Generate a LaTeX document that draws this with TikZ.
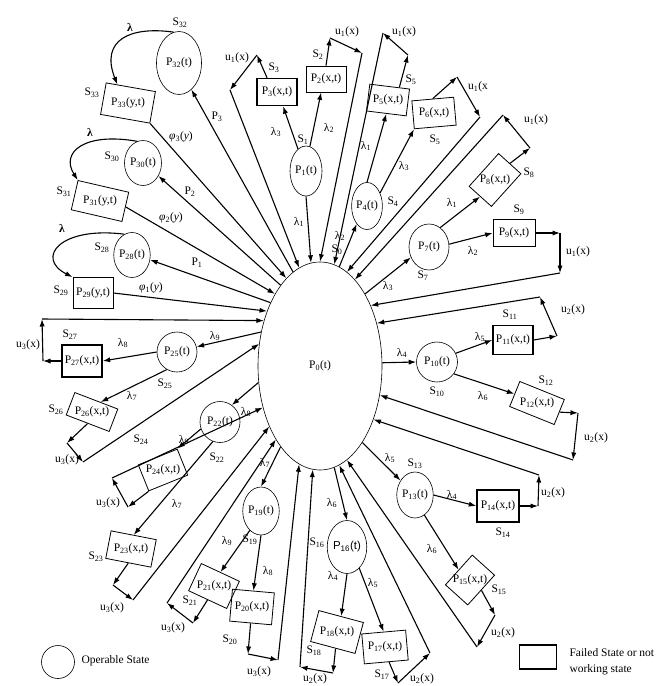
\documentclass[tikz,border=0pt]{standalone}
\usepackage{fontspec}
\setmainfont{Liberation Serif}
\newfontfamily\arialfont{Liberation Sans}
\usetikzlibrary{shapes.geometric,arrows.meta}
\newcommand\Pt[1]{P\textsubscript{#1}(t)}
\newcommand\Px[1]{P\textsubscript{#1}(x,t)}
\newcommand\Py[1]{P\textsubscript{#1}(y,t)}
\newcommand\Sl[1]{S\textsubscript{#1}}
\newcommand\lam[1]{λ\textsubscript{#1}}
\newcommand\ux[1]{u\textsubscript{#1}(x)}
\newcommand\phy[1]{\textit{φ}\textsubscript{#1}(\textit{y})}

\begin{document}
\begin{tikzpicture}[x=1pt,y=-1pt,
  every node/.style={font=\fontsize{11.5}{13}\selectfont},
  opstate/.style={draw,ellipse,line width=0.6pt,inner sep=0pt},
  failstate/.style={draw,rectangle,line width=0.8pt,inner sep=1pt},
  failthick/.style={failstate,line width=1.4pt},
  trans/.style={line width=1.1pt,-{Latex[length=7.5pt,width=5.2pt]}},
]
\useasboundingbox (0,0) rectangle (669,686);
% main state
\node[opstate,minimum width=124,minimum height=208] (P0) at (320,366) {\Pt{0}};
% operable states
\node[opstate,minimum width=32,minimum height=50] (P1) at (306,171) {\Pt{1}};
\node[opstate,minimum width=30,minimum height=47] (P4) at (367,206) {\Pt{4}};
\node[opstate,minimum width=40,minimum height=46] (P7) at (429,247) {\Pt{7}};
\node[opstate,minimum width=41,minimum height=40] (P10) at (437,362) {\Pt{10}};
\node[opstate,minimum width=34,minimum height=46] (P13) at (415,495) {\Pt{13}};
\node[opstate,minimum width=34,minimum height=53] (P16) at (347,547) {\arialfont\Pt{16}};
\node[opstate,minimum width=34,minimum height=48] (P19) at (261,511) {\Pt{19}};
\node[opstate,minimum width=40,minimum height=41] (P22) at (220,422) {\Pt{22}};
\node[opstate,minimum width=40,minimum height=40] (P25) at (177,352) {\Pt{25}};
\node[opstate,minimum width=35,minimum height=45] (P28) at (132,255) {\Pt{28}};
\node[opstate,minimum width=37,minimum height=45] (P30) at (143,163) {\Pt{30}};
\node[opstate,minimum width=45,minimum height=63] (P32) at (179,63) {\Pt{32}};
% failed states, upright boxes
\node[failthick,minimum width=40,minimum height=27] (P3) at (277,92) {\Px{3}};
\node[failstate,minimum width=40,minimum height=26] (P2) at (326,79) {\Px{2}};
\node[failstate,minimum width=42,minimum height=27] (P9) at (514,233) {\Px{9}};
\node[failthick,minimum width=40,minimum height=29] (P11) at (513,340) {\Px{11}};
\node[failthick,minimum width=42,minimum height=32] (P14) at (498,506) {\Px{14}};
\node[failthick,minimum width=40,minimum height=32] (P27) at (82,361) {\Px{27}};
\node[failstate,minimum width=40,minimum height=31] (P29) at (93,293) {\Py{29}};
% failed states, tilted boxes (text kept level)
\node[failstate,minimum width=40,minimum height=27,rotate=-7] (P5) at (388,100) {};
\node[failstate,minimum width=42,minimum height=28,rotate=5] (P6) at (434,113) {};
\node[failstate,minimum width=44,minimum height=30,rotate=48] (P8) at (495,180) {};
\node[failstate,minimum width=48,minimum height=27,rotate=-22] (P12) at (537,403) {};
\node[failstate,minimum width=40,minimum height=30,rotate=48] (P15) at (470,580) {};
\node[failstate,minimum width=44,minimum height=30,rotate=5] (P17) at (385,647) {};
\node[failstate,minimum width=46,minimum height=32,rotate=-15] (P18) at (337,632) {};
\node[failstate,minimum width=42,minimum height=32,rotate=-5] (P20) at (252,607) {};
\node[failstate,minimum width=42,minimum height=30,rotate=-25] (P21) at (214,586) {};
\node[failstate,minimum width=46,minimum height=28,rotate=-11] (P23) at (131,549) {};
\node[failstate,minimum width=42,minimum height=28,rotate=22] (P24) at (163,470) {};
\node[failstate,minimum width=46,minimum height=24,rotate=-21] (P26) at (92,412) {};
\node[failstate,minimum width=52,minimum height=30,rotate=-13] (P31) at (100,201) {};
\node[failstate,minimum width=50,minimum height=32,rotate=-10] (P33) at (128,103) {};
\node (P5txt) at (P5) {\Px{5}};
\node (P6txt) at (P6) {\Px{6}};
\node (P8txt) at (P8) {\Px{8}};
\node (P12txt) at (P12) {\Px{12}};
\node (P15txt) at (P15) {\Px{15}};
\node (P17txt) at (P17) {\Px{17}};
\node (P18txt) at (P18) {\Px{18}};
\node (P20txt) at (P20) {\Px{20}};
\node (P21txt) at (P21) {\Px{21}};
\node (P23txt) at (P23) {\Px{23}};
\node (P24txt) at (P24) {\Px{24}};
\node (P26txt) at (P26) {\Px{26}};
\node (P31txt) at (P31) {\Py{31}};
\node (P33txt) at (P33) {\Py{33}};
% failure transitions
\draw[trans] (P1.south) -- (P0.95);
\draw[trans] (P1.81) -- (P2.-110);
\draw[trans] (P1.110) -- (P3.-67);
\draw[trans] (P0.79) -- (P4.-120);
\draw[trans] (P4.north) -- (P5.south);
\draw[trans] (P4.45) -- (P6.south west);
\draw[trans] (P0.58) -- (P7.-150);
\draw[trans] (P7.60) -- (P8.west);
\draw[trans] (P7.8) -- (P9.west);
\draw[trans] (P0.3) -- (P10.west);
\draw[trans] (P10.25) -- (P11.west);
\draw[trans] (P10.-35) -- (P12.west);
\draw[trans] (P0.-61) -- (P13.135);
\draw[trans] (P13.east) -- (P14.west);
\draw[trans] (P13.-65) -- (P15.north);
\draw[trans] (P0.-82) -- (P16.north);
\draw[trans] (P16.south) -- (P18.north);
\draw[trans] (P16.-60) -- (P17.north);
\draw[trans] (P0.-116) -- (P19.north);
\draw[trans] (P19.-120) -- (P21.north);
\draw[trans] (P19.south) -- (P20.north);
\draw[trans] (P0.195) -- (P22.55);
\draw[trans] (P22.-160) -- (P24.north east);
\draw[trans] (P22.-110) -- (P23.north);
\draw[trans] (P0.150) -- (P25.15);
\draw[trans] (P25.west) -- (P27.east);
\draw[trans] (P25.-120) -- (P26.70);
\draw[trans] (P0.106) -- (P32.-65);
\draw[trans] (P0.116) -- (P30.-40);
\draw[trans] (P0.128) -- (P28.-15);
\draw[trans] (P33.south east) -- (P0.111);
\draw[trans] (P31.east) -- (P0.122);
\draw[trans] (P29.east) -- (P0.134);
% lambda loops
\draw[trans] (P32.100) .. controls (130,26) and (100,40) .. (P33.130);
\draw[trans] (P30.105) .. controls (85,132) and (60,152) .. (P31.north west);
\draw[trans] (P28.110) .. controls (60,226) and (35,258) .. (P29.north west);
% repair corners
\coordinate (r3a) at (257,55);  \coordinate (r3b) at (230,90);
\coordinate (r2a) at (330,38);  \coordinate (r2b) at (362,53);
\coordinate (r5a) at (408,55);  \coordinate (r5b) at (383,33);
\coordinate (r6a) at (457,77);  \coordinate (r6b) at (480,117);
\coordinate (r8a) at (530,148); \coordinate (r8b) at (503,115);
\coordinate (r9a) at (560,233); \coordinate (r9b) at (560,273);
\coordinate (r11a) at (557,336); \coordinate (r11b) at (540,297);
\coordinate (r12a) at (578,413); \coordinate (r12b) at (573,460);
\coordinate (r14a) at (538,506); \coordinate (r14b) at (539,475);
\coordinate (r15a) at (495,615); \coordinate (r15b) at (477,647);
\coordinate (r17a) at (398,683); \coordinate (r17b) at (430,653);
\coordinate (r18a) at (333,673); \coordinate (r18b) at (300,667);
\coordinate (r20a) at (248,654); \coordinate (r20b) at (278,660);
\coordinate (r21a) at (193,623); \coordinate (r21b) at (167,603);
\coordinate (r23a) at (113,585); \coordinate (r23b) at (133,600);
\coordinate (r24a) at (128,507); \coordinate (r24b) at (112,478);
\coordinate (r26a) at (67,443);  \coordinate (r26b) at (83,462);
\coordinate (r27a) at (43,361);  \coordinate (r27b) at (42,319);
% repair paths
\draw[trans] (P3.125) -- (r3a); \draw[trans] (r3a) -- (r3b); \draw[trans] (r3b) -- (P0.102);
\draw[trans] (P2.north) -- (r2a); \draw[trans] (r2a) -- (r2b); \draw[trans] (r2b) -- (P0.90);
\draw[trans] (P5.55) -- (r5a); \draw[trans] (r5a) -- (r5b); \draw[trans] (r5b) -- (P0.82);
\draw[trans] (P6.north) -- (r6a); \draw[trans] (r6a) -- (r6b); \draw[trans] (r6b) -- (P0.74);
\draw[trans] (P8.east) -- (r8a); \draw[trans] (r8a) -- (r8b); \draw[trans] (r8b) -- (P0.68);
\draw[trans] (P9.east) -- (r9a); \draw[trans] (r9a) -- (r9b); \draw[trans] (r9b) -- (P0.50);
\draw[trans] (P11.east) -- (r11a); \draw[trans] (r11a) -- (r11b); \draw[trans] (r11b) -- (P0.37);
\draw[trans] (P12.east) -- (r12a); \draw[trans] (r12a) -- (r12b); \draw[trans] (r12b) -- (P0.-26);
\draw[trans] (P14.east) -- (r14a); \draw[trans] (r14a) -- (r14b); \draw[trans] (r14b) -- (P0.-45);
\draw[trans] (P15.south) -- (r15a); \draw[trans] (r15a) -- (r15b); \draw[trans] (r15b) -- (P0.-74);
\draw[trans] (P17.-80) -- (r17a); \draw[trans] (r17a) -- (r17b); \draw[trans] (r17b) -- (P0.-79);
\draw[trans] (P18.-80) -- (r18a); \draw[trans] (r18a) -- (r18b); \draw[trans] (r18b) -- (P0.-94);
\draw[trans] (P20.south) -- (r20a); \draw[trans] (r20a) -- (r20b); \draw[trans] (r20b) -- (P0.-102);
\draw[trans] (P21.south) -- (r21a); \draw[trans] (r21a) -- (r21b); \draw[trans] (r21b) -- (P0.-121);
\draw[trans] (P23.south) -- (r23a); \draw[trans] (r23a) -- (r23b); \draw[trans] (r23b) -- (P0.-130);
\draw[trans] (P24.south west) -- (r24a); \draw[trans] (r24a) -- (r24b); \draw[trans] (r24b) -- (P0.-144);
\draw[trans] (P26.south) -- (r26a); \draw[trans] (r26a) -- (r26b); \draw[trans] (r26b) -- (P0.160);
\draw[trans] (P27.west) -- (r27a); \draw[trans] (r27a) -- (r27b); \draw[trans] (r27b) -- (P0.141);
% state labels
\node (s0) at (337,250) {\Sl{0}};
\node (s1) at (303,140) {\Sl{1}};
\node (s2) at (318,55) {\Sl{2}};
\node (s3) at (274,68) {\Sl{3}};
\node (s4) at (393,202) {\Sl{4}};
\node (s5) at (411,80) {\Sl{5}};
\node (s5b) at (435,140) {\Sl{5}};
\node (s7) at (423,276) {\Sl{7}};
\node (s8) at (529,173) {\Sl{8}};
\node (s9) at (519,210) {\Sl{9}};
\node (s10) at (437,392) {\Sl{10}};
\node (s11) at (510,315) {\Sl{11}};
\node (s12) at (546,381) {\Sl{12}};
\node (s13) at (415,464) {\Sl{13}};
\node (s14) at (503,533) {\Sl{14}};
\node (s15) at (499,590) {\Sl{15}};
\node (s16) at (317,543) {\Sl{16}};
\node (s17) at (382,675) {\Sl{17}};
\node (s18) at (314,651) {\Sl{18}};
\node (s19) at (250,540) {\Sl{19}};
\node (s20) at (230,640) {\Sl{20}};
\node (s21) at (190,601) {\Sl{21}};
\node (s22) at (217,458) {\Sl{22}};
\node (s23) at (96,557) {\Sl{23}};
\node (s24) at (141,440) {\Sl{24}};
\node (s25) at (165,384) {\Sl{25}};
\node (s26) at (56,410) {\Sl{26}};
\node (s27) at (70,335) {\Sl{27}};
\node (s28) at (102,248) {\Sl{28}};
\node (s29) at (61,291) {\Sl{29}};
\node (s30) at (112,157) {\Sl{30}};
\node (s31) at (64,192) {\Sl{31}};
\node (s32) at (180,23) {\Sl{32}};
\node (s33) at (92,93) {\Sl{33}};
% rate labels
\node (lb1) at (299,222) {\lam{1}};
\node (lb2) at (329,128) {\lam{2}};
\node (lb3) at (276,132) {\lam{3}};
\node (lb4) at (340,236) {\lam{2}};
\node (lb5) at (366,146) {\lam{1}};
\node (lb6) at (404,166) {\lam{3}};
\node (lb7) at (388,286) {\lam{3}};
\node (lb8) at (452,203) {\lam{1}};
\node (lb9) at (473,251) {\lam{2}};
\node (lb10) at (402,353) {\lam{4}};
\node (lb11) at (480,337) {\lam{5}};
\node (lb12) at (483,396) {\lam{6}};
\node (lb13) at (390,458) {\lam{5}};
\node (lb14) at (452,495) {\lam{4}};
\node (lb15) at (432,549) {\lam{6}};
\node (lb16) at (332,503) {\lam{6}};
\node (lb17) at (333,576) {\lam{4}};
\node (lb18) at (373,583) {\lam{5}};
\node (lb19) at (265,463) {\lam{7}};
\node (lb20) at (227,541) {\lam{9}};
\node (lb21) at (268,571) {\lam{8}};
\node (lb22) at (246,412) {\lam{8}};
\node (lb23) at (184,440) {\lam{9}};
\node (lb24) at (177,504) {\lam{7}};
\node (lb25) at (215,336) {\lam{9}};
\node (lb26) at (123,343) {\lam{8}};
\node (lb27) at (132,396) {\lam{7}};
\node (lb28) at (130,27) {\textbf{λ}};
\node (lb29) at (90,132) {\textbf{λ}};
\node (lb30) at (62,228) {\textbf{λ}};
\node (lb31) at (217,117) {P\textsubscript{3}};
\node (lb32) at (190,192) {P\textsubscript{2}};
\node (lb33) at (197,263) {P\textsubscript{1}};
\node (lb34) at (181,137) {\phy{3}};
\node (lb35) at (171,218) {\phy{2}};
\node (lb36) at (151,288) {\phy{1}};
% repair labels
\node (rl3) at (237,58) {\ux{1}};
\node (rl2) at (347,32) {\ux{1}};
\node (rl5) at (404,32) {\ux{1}};
\node (rl6) at (478,87) {u\textsubscript{1}(x};
\node (rl8) at (536,120) {\ux{1}};
\node (rl9) at (578,252) {\ux{1}};
\node (rl11) at (573,310) {\ux{2}};
\node (rl12) at (596,438) {\ux{2}};
\node (rl14) at (553,493) {\ux{2}};
\node (rl15) at (503,633) {\ux{2}};
\node (rl17) at (422,679) {\ux{2}};
\node (rl18) at (315,679) {\ux{2}};
\node (rl20) at (259,672) {\ux{3}};
\node (rl21) at (173,628) {\ux{3}};
\node (rl23) at (112,608) {\ux{3}};
\node (rl24) at (108,503) {\ux{3}};
\node (rl26) at (67,460) {\ux{3}};
\node (rl27) at (28,345) {\ux{3}};
% legend
\node[opstate,minimum width=33,minimum height=33] (legop) at (58,662) {};
\node[anchor=west] (legoptxt) at (78,661) {Operable State};
\node[failthick,minimum width=37,minimum height=24] (legfail) at (538,657) {};
\node[anchor=west,align=left,font=\fontsize{11.5}{16}\selectfont] (legfailtxt) at (566,662) {Failed State or not\\working state};
\end{tikzpicture}
\end{document}
